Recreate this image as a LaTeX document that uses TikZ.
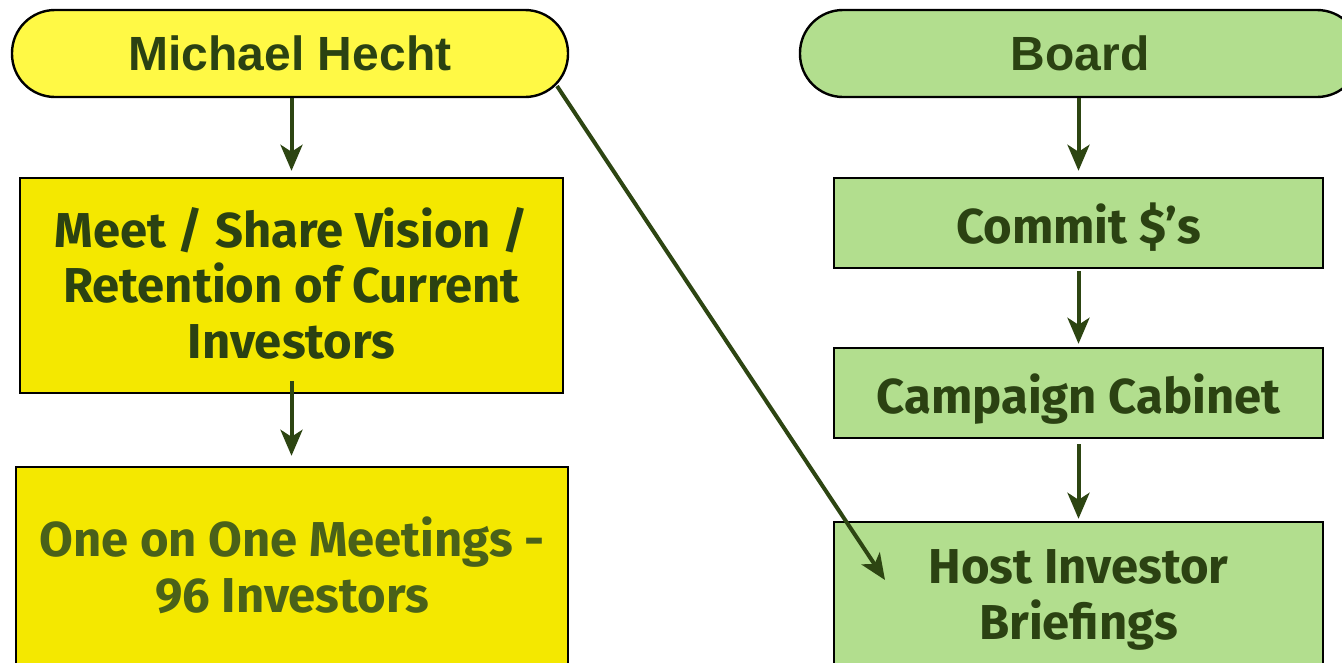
\documentclass[tikz,border=0pt]{standalone}
\usepackage{fontspec}
\setmainfont{Liberation Sans}
\newfontfamily\boxfont{Fira Sans}
\usetikzlibrary{arrows.meta}
\definecolor{mhyellow}{HTML}{FFF945}
\definecolor{boxyellow}{HTML}{F4E800}
\definecolor{boxgreen}{HTML}{B2DE8E}
\definecolor{darktext}{HTML}{2B4212}
\definecolor{olivetext}{HTML}{4A6119}
\definecolor{arrowgreen}{HTML}{2D4512}
\tikzset{
  head/.style={draw=black, line width=2.4pt, rounded corners=43pt, minimum height=87pt,
    font=\bfseries\fontsize{48}{52}\selectfont, text=darktext, inner sep=0pt},
  stepbox/.style={draw=black, line width=2.4pt, inner sep=0pt},
  steptext/.style={anchor=base, align=center, inner sep=0pt,
    font=\boxfont\bfseries\fontsize{49}{55.5}\selectfont, text=darktext},
  arr/.style={draw=arrowgreen, line width=4pt,
    -{Stealth[length=26pt,width=22pt,inset=7pt]}}
}
\begin{document}
\begin{tikzpicture}[x=1pt,y=-1pt]
\useasboundingbox (0,0) rectangle (1342,662);
\clip (0,0) rectangle (1342,662);
% left column
\node[head, fill=mhyellow, minimum width=556pt] (mh) at (290,53.5) {Michael Hecht};
\node[stepbox, fill=boxyellow, minimum width=543pt, minimum height=215pt] (b1) at (291.5,285.5) {};
\node[steptext] (t1) at (291.5,358) {Meet / Share Vision /\\Retention of Current\\Investors};
\node[stepbox, fill=boxyellow, minimum width=552pt, minimum height=230pt] (b2) at (292,582) {};
\node[steptext, text=olivetext] (t2) at (292,612) {One on One Meetings -\\96 Investors};
% right column
\node[head, fill=boxgreen, minimum width=560pt] (bd) at (1080,53.5) {Board};
\node[stepbox, fill=boxgreen, minimum width=489pt, minimum height=90pt] (c1) at (1078.5,223) {};
\node[steptext] (t3) at (1078.5,243) {Commit \$’s};
\node[stepbox, fill=boxgreen, minimum width=489pt, minimum height=90pt] (c2) at (1078.5,393) {};
\node[steptext] (t4) at (1078.5,413) {Campaign Cabinet};
\node[stepbox, fill=boxgreen, minimum width=489pt, minimum height=230pt] (c3) at (1078.5,637) {};
\node[steptext] (t5) at (1078.5,639) {Host Investor\\Briefings};
% connectors
\draw[arr, shorten >=6pt] (b1.north |- mh.south) -- (b1.north);
\draw[arr, shorten <=-13pt, shorten >=10pt] (b1.south) -- (b2.north -| b1.south);
\draw[arr, shorten >=6pt] (c1.north |- bd.south) -- (c1.north);
\draw[arr, shorten <=2pt, shorten >=3pt] (c1.south) -- (c2.north);
\draw[arr, shorten <=5pt, shorten >=2pt] (c2.south) -- (c3.north);
\coordinate (d0) at (557,86);
\coordinate (dt) at (885,580);
\draw[arr] (d0) -- (dt);
\end{tikzpicture}
\end{document}
